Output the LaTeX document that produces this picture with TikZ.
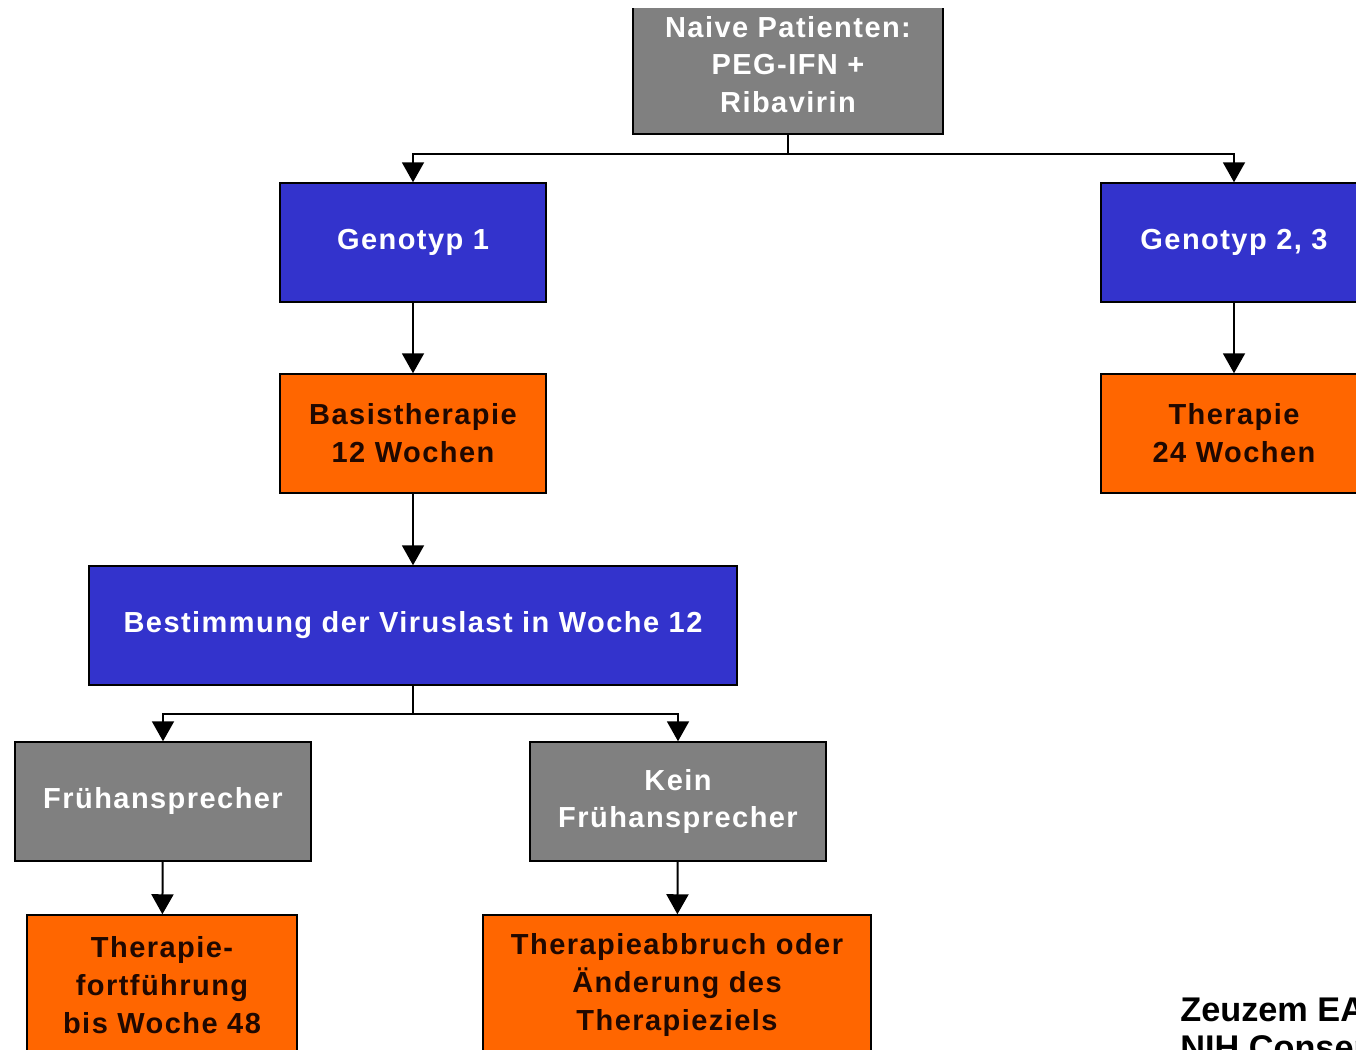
\documentclass[tikz,border=0pt]{standalone}
\usepackage{fontspec}
\setmainfont{Liberation Sans}
\newfontfamily\boxfont[LetterSpace=5]{Liberation Sans}
\usetikzlibrary{arrows.meta}
\definecolor{boxblue}{RGB}{51,51,204}
\definecolor{boxorange}{RGB}{255,102,0}
\definecolor{boxgray}{RGB}{128,128,128}
\definecolor{darktext}{RGB}{32,8,0}
\tikzset{
  box/.style={draw=black, line width=0.03cm, align=center, inner sep=0pt,
    minimum height=2.38cm, font=\boxfont\fontsize{16.5}{21.5}\selectfont\bfseries},
  bluebox/.style={box, fill=boxblue, text=white},
  graybox/.style={box, fill=boxgray, text=white},
  orangebox/.style={box, fill=boxorange, text=darktext},
  arr/.style={-{Triangle[width=0.44cm,length=0.4cm]}, line width=0.04cm},
}

\begin{document}
\begin{tikzpicture}[x=0.02cm,y=-0.02cm]
\path[use as bounding box,clip] (0,0) rectangle (1356,1050);
% -- define nodes
\begin{scope}
\clip (0,9) rectangle (1356,1050);
\node[graybox,minimum width=6.2cm,minimum height=2.78cm] (top) at (788,64.5) {Naive Patienten:\\PEG-IFN +\\Ribavirin};
\end{scope}
\node[bluebox,minimum width=5.32cm] (g1) at (413,242.5) {Genotyp 1};
\node[bluebox,minimum width=5.32cm] (g23) at (1234,242.5) {Genotyp 2, 3};
\node[orangebox,minimum width=5.32cm] (basis) at (413,433.5) {Basistherapie\\12 Wochen};
\node[orangebox,minimum width=5.32cm] (t24) at (1234,433.5) {Therapie\\24 Wochen};
\node[bluebox,minimum width=12.96cm] (best) at (413,625.5) {Bestimmung der Viruslast in Woche 12};
\node[graybox,minimum width=5.92cm] (frueh) at (163,801.5) {Frühansprecher};
\node[graybox,minimum width=5.92cm] (kein) at (678,801.5) {Kein\\Frühansprecher};
\node[orangebox,minimum width=5.4cm,minimum height=2.8cm] (fort) at (162,985) {Therapie-\\fortführung\\bis Woche 48};
\node[orangebox,minimum width=7.76cm,minimum height=2.8cm] (abbr) at (677,985) {Therapieabbruch oder\\Änderung des\\Therapieziels};
\node[anchor=north west,align=left,inner sep=0pt,
  font=\fontsize{19.5}{22}\selectfont\bfseries] (ref) at (1180,997) {Zeuzem EASL\\NIH Consensus};
% -- draw lines
\path (top.south) ++(0,19) coordinate (s1);
\draw[arr] (top.south) -- (s1) -| (g1.north);
\draw[arr] (s1) -| (g23.north);
\draw[arr] (g1) -- (basis);
\draw[arr] (g23) -- (t24);
\draw[arr] (basis) -- (best);
\path (best.south) ++(0,28) coordinate (s2);
\draw[arr] (best.south) -- (s2) -| (frueh.north);
\draw[arr] (s2) -| (kein.north);
\draw[arr] (frueh) -- (fort);
\draw[arr] (kein) -- (abbr);
\end{tikzpicture}
\end{document}
